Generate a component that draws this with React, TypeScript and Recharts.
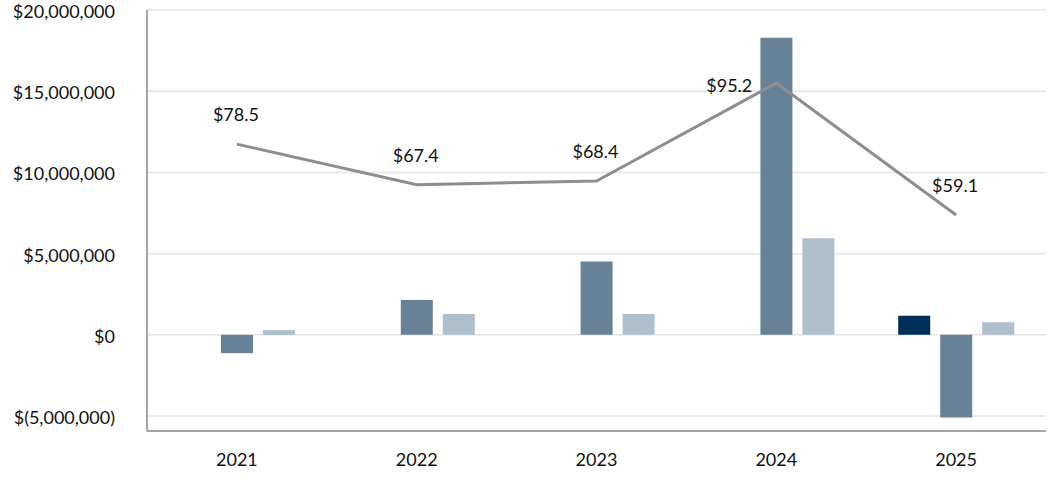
import React from 'react';
import { ComposedChart, Bar, Line, XAxis, YAxis, CartesianGrid, LabelList } from 'recharts';

const years = ['2021', '2022', '2023', '2024', '2025'];
const seriesDark = [null, null, null, null, 1170000];
const seriesMid = [-1130000, 2150000, 4510000, 18290000, -5090000];
const seriesLight = [290000, 1290000, 1290000, 5950000, 780000];
const lineValues = [78.5, 67.4, 68.4, 95.2, 59.1];
const yTicks = [-5000000, 0, 5000000, 10000000, 15000000, 20000000];

const data = years.map((y, i) => ({
  year: y,
  dark: seriesDark[i],
  mid: seriesMid[i],
  light: seriesLight[i],
  price: lineValues[i],
}));

const FONT = 'Lato, "Open Sans", sans-serif';

const fmtMoney = (v: number) => {
  if (v === 0) return '$0';
  const s = Math.abs(v).toLocaleString('en-US');
  return v < 0 ? `$(${s})` : `$${s}`;
};

const PriceLabel = (props: any) => {
  const { x, y, value, index } = props;
  const left = index === 3;
  return (
    <text
      x={left ? x - 47 : x - 1}
      y={left ? y + 2 : y - 30}
      textAnchor="middle"
      dominantBaseline="central"
      fontFamily={FONT}
      fontSize={18}
      fill="#111"
    >
      {`$${Number(value).toFixed(1)}`}
    </text>
  );
};

const YTick = (props: any) => {
  const { x, y, payload } = props;
  return (
    <text
      x={x}
      y={y + 1}
      textAnchor="end"
      dominantBaseline="central"
      fontFamily={FONT}
      fontSize={18}
      fill="#111"
    >
      {fmtMoney(payload.value)}
    </text>
  );
};

export default function App() {
  return (
    <div style={{ position: 'absolute', left: 0, top: 0, background: '#fff' }}>
      <ComposedChart
        width={1056}
        height={480}
        data={data}
        margin={{ top: 10, right: 10, bottom: 0, left: 0 }}
        barGap={10}
      >
        <CartesianGrid yAxisId="left" vertical={false} stroke="#E4E4E4" strokeWidth={1.5} />
        <XAxis
          dataKey="year"
          height={49}
          axisLine={{ stroke: '#A6A6A6', strokeWidth: 2 }}
          tickLine={false}
          tickSize={0}
          tickMargin={22}
          tick={{ fontFamily: FONT, fontSize: 18, fill: '#111' }}
        />
        <YAxis
          yAxisId="left"
          width={147}
          domain={[-5920000, 20000000]}
          ticks={yTicks}
          interval={0}
          allowDataOverflow
          axisLine={{ stroke: '#A6A6A6', strokeWidth: 2 }}
          tickLine={false}
          tickSize={0}
          tickMargin={32}
          tick={<YTick />}
        />
        <YAxis yAxisId="right" orientation="right" hide domain={[0, 115.2]} />
        <Bar yAxisId="left" dataKey="dark" fill="#00305A" barSize={32} isAnimationActive={false} />
        <Bar yAxisId="left" dataKey="mid" fill="#678197" barSize={32} isAnimationActive={false} />
        <Bar yAxisId="left" dataKey="light" fill="#B0BFCC" barSize={32} isAnimationActive={false} />
        <Line
          yAxisId="right"
          dataKey="price"
          stroke="#8E8E8E"
          strokeWidth={3}
          dot={false}
          isAnimationActive={false}
        >
          <LabelList dataKey="price" content={PriceLabel} />
        </Line>
      </ComposedChart>
    </div>
  );
}
